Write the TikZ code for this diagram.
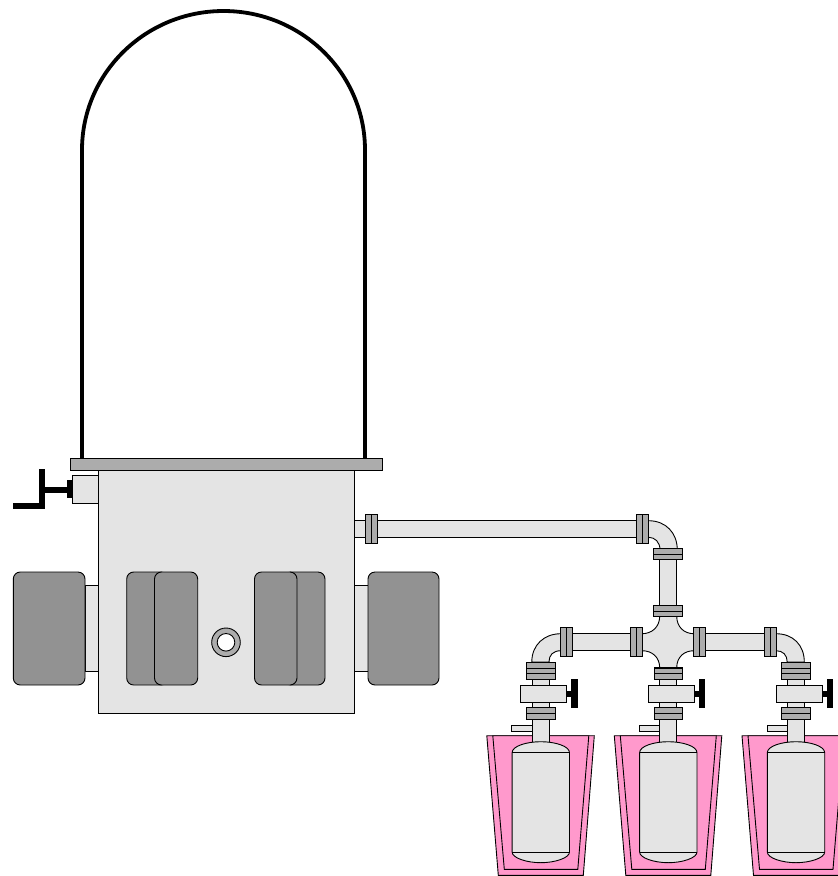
\documentclass[tikz,border=0pt]{standalone}
\definecolor{bodygray}{HTML}{E4E4E4}
\definecolor{flangegray}{HTML}{ACACAC}
\definecolor{padgray}{HTML}{929292}
\definecolor{bathpink}{HTML}{FF99CC}
\begin{document}
\begin{tikzpicture}[
    x=1pt, y=-1pt,
    thinline/.style={draw=black, line width=0.9pt},
    part/.style={thinline, fill=#1},
    part/.default=bodygray,
    flange/.style={thinline, fill=flangegray},
    pad/.style={thinline, fill=padgray, rounded corners=7pt},
    handle/.style={fill=black}
]
\useasboundingbox (0,0) rectangle (838,876);
\clip (0,0) rectangle (838,876);

% bell jar
\draw[line width=3.8pt] (82,458) -- (82,150) arc[start angle=180, end angle=360, x radius=141.5, y radius=139] -- (365,458);

% chamber
\draw[part] (98.5,470) rectangle (354,713);
\draw[flange] (70,458.5) rectangle (382,470);

% gauge valve
\draw[part] (72.5,475) rectangle (98.5,503);
\fill[handle] (67,480) rectangle (73,498);
\fill[handle] (45,487) rectangle (67,493);
\fill[handle] (39,469) rectangle (45,509);
\fill[handle] (13,503) rectangle (45,509);

% side ports
\draw[part] (85,585) rectangle (98.5,671);
\draw[part] (354,585) rectangle (368,671);
\draw[pad] (13.3,572) rectangle (85,685);
\draw[pad] (368,572) rectangle (439,685);

% windows
\draw[pad] (126.7,572) rectangle (168,685);
\draw[pad] (154.5,572) rectangle (197.7,685);
\draw[pad] (284,572) rectangle (325,685);
\draw[pad] (254.5,572) rectangle (297,685);

% port ring
\draw[part=flangegray] (226,642.3) circle[radius=14.3];
\draw[part=white] (226,642.3) circle[radius=8.8];

% main line
\draw[part] (354,520.7) rectangle (640,537.3);
\draw[part] (645,520.7) -- (648.5,520.7) .. controls (666,520.7) and (677.3,533) .. (677.3,550)
    -- (660,550) .. controls (660,542) and (655,537.3) .. (648.5,537.3) -- (645,537.3) -- cycle;
\draw[part] (659.7,559) rectangle (676.7,606);

% manifold
\draw[part] (571,633.7) rectangle (632,650.7);
\draw[part] (705,633.7) rectangle (765,650.7);
\draw[part] (659.7,616) .. controls (659.7,627) and (652,633.7) .. (642,633.7)
    -- (642,650.7) .. controls (652,650.7) and (659.7,657) .. (659.7,668)
    -- (676.7,668) .. controls (676.7,657) and (684,650.7) .. (694,650.7)
    -- (694,633.7) .. controls (684,633.7) and (676.7,627) .. (676.7,616) -- cycle;
\draw[part] (561,633.7) .. controls (544,633.7) and (531.8,645) .. (531.8,662)
    -- (549,662) .. controls (549,655) and (553,650.7) .. (561,650.7) -- cycle;
\draw[part] (776,633.7) .. controls (793,633.7) and (804.3,645) .. (804.3,662)
    -- (787.2,662) .. controls (787.2,655) and (783,650.7) .. (776,650.7) -- cycle;

% flanges across horizontal runs
\foreach \fx in {371,642.4,566,636.7,699.5,770.5} {
    \pgfmathsetmacro{\fy}{\fx<400 || \fx==642.4 ? 529 : 642}
    \draw[flange] (\fx-6,\fy-14.5) rectangle (\fx+6,\fy+14.5);
    \draw[thinline] (\fx,\fy-14.5) -- (\fx,\fy+14.5);
}
% flanges across vertical runs
\foreach \fy in {554,611} {
    \draw[flange] (653.7,\fy-5.5) rectangle (682.5,\fy+5.5);
    \draw[thinline] (653.7,\fy) -- (682.5,\fy);
}

% bath, bottle and valve
\foreach \cx/\topy in {540.8/662, 668.3/667, 796/662} {
\begin{scope}[shift={(\cx,0)}]
    \draw[part] (-29,725) rectangle (-8,731);
    \draw[part=bathpink] (-54,735.7) -- (53.5,735.7) -- (42.5,875.3) -- (-42.5,875.3) -- cycle;
    \draw[part=bathpink] (-48,735.7) -- (48,735.7) -- (37,869.3) -- (-36.5,869.3) -- cycle;
    \draw[part] (-8.5,679) rectangle (8.5,742);
    \draw[part] (-28.7,752.7) .. controls (-28.7,746) and (-14,741.7) .. (0,741.7) .. controls (14,741.7) and (28.7,746) .. (28.7,752.7)
        -- (28.7,852) .. controls (28.7,858) and (14,862.7) .. (0,862.7) .. controls (-14,862.7) and (-28.7,858) .. (-28.7,852) -- cycle;
    \draw[thinline] (-28.7,752.7) -- (28.7,752.7);
    \draw[thinline] (-28.7,852) -- (28.7,852);
    % flange above valve
    \draw[flange] (-14.2,\topy) rectangle (14.2,679.5);
    \draw[thinline] (-14.2,668) -- (14.2,668);
    \draw[thinline] (-14.2,673.3) -- (14.2,673.3);
    % valve
    \draw[part] (-20,685) rectangle (26,702.3);
    \fill[handle] (26,690.7) rectangle (30.5,697.3);
    \fill[handle] (30.5,679) rectangle (37,708);
    % flange below valve
    \draw[flange] (-14.2,707.3) rectangle (14.2,719);
    \draw[thinline] (-14.2,713) -- (14.2,713);
\end{scope}
}
\end{tikzpicture}
\end{document}
